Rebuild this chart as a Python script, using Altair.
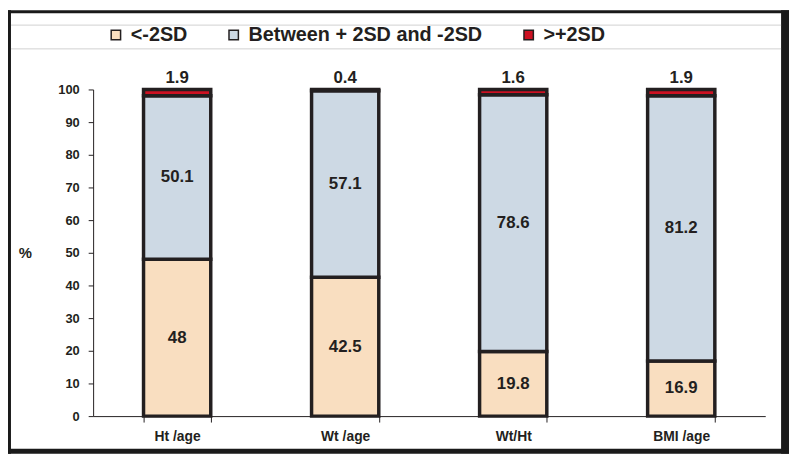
import altair as alt
import pandas as pd

categories = ["Ht /age", "Wt /age", "Wt/Ht", "BMI /age"]
series = ["<-2SD", "Between + 2SD and -2SD", ">+2SD"]
below = [48, 42.5, 19.8, 16.9]
between = [50.1, 57.1, 78.6, 81.2]
above = [1.9, 0.4, 1.6, 1.9]
colors = ["#F9DEC0", "#CDD9E4", "#CC1122"]

rows = []
for i, c in enumerate(categories):
    base_v = 0.0
    for k, (s, vals) in enumerate(zip(series, [below, between, above])):
        v = vals[i]
        rows.append({"cat": c, "series": s, "order": k, "value": v,
                     "y0": base_v, "y1": base_v + v, "mid": base_v + v / 2,
                     "label": f"{v:g}"})
        base_v += v
df = pd.DataFrame(rows)

DARK = "#231F20"
FONT = "Liberation Sans"

xaxis = alt.Axis(title=None, labelAngle=0, labelFontSize=14, labelFontWeight="bold",
                 labelColor=DARK, tickBand="extent", tickSize=6, tickColor=DARK,
                 domainColor=DARK, labelPadding=8, labelFont=FONT)
yaxis = alt.Axis(title="%", values=list(range(0, 101, 10)), grid=False,
                 labelOverlap=False,
                 labelFontSize=13, labelFontWeight="bold", labelColor=DARK,
                 tickSize=5, tickColor=DARK, domainColor=DARK, labelPadding=9,
                 titleAngle=0, titleX=-69, titleY=165, titleAlign="center",
                 titleBaseline="middle", titleFontSize=15, titleFontWeight="bold",
                 titleColor=DARK, labelFont=FONT, titleFont=FONT)
xscale = alt.Scale(paddingInner=0.6, paddingOuter=0.3)
yscale = alt.Scale(domain=[0, 100])


def X():
    return alt.X("cat:N", sort=categories, scale=xscale, axis=xaxis)


def Y(field):
    return alt.Y(field, scale=yscale, axis=yaxis)


base = alt.Chart(df)
bars = base.mark_bar(stroke=DARK, strokeWidth=3.5).encode(
    x=X(),
    y=Y("y0:Q"),
    y2="y1:Q",
    color=alt.Color("series:N", sort=series,
                    scale=alt.Scale(domain=series, range=colors),
                    legend=alt.Legend(title=None, orient="none", direction="horizontal",
                                      legendX=13, legendY=-65, symbolType="square",
                                      symbolSize=90, symbolStrokeColor=DARK,
                                      symbolStrokeWidth=1.5, symbolOpacity=1,
                                      labelFontSize=20, labelFontWeight="bold",
                                      labelColor=DARK, labelOffset=5, columnPadding=36,
                                      padding=0, labelFont=FONT, labelLimit=400)),
    order=alt.Order("order:Q"),
)

inner = base.transform_filter(alt.datum.series != ">+2SD").mark_text(
    fontSize=17, fontWeight="bold", color=DARK, font=FONT
).encode(x=X(), y=Y("mid:Q"), text="label:N")

top = base.transform_filter(alt.datum.series == ">+2SD").mark_text(
    fontSize=17, fontWeight="bold", color=DARK, font=FONT, baseline="bottom", dy=-3
).encode(x=X(), y=Y("y1:Q"), text="label:N")

one = alt.Data(values=[{"a": 1}])
frame = [
    alt.Chart(one).mark_rule(color="#1a1a1a", strokeWidth=3).encode(
        x=alt.value(-84.5), y=alt.value(-80), y2=alt.value(368)),
    alt.Chart(one).mark_rule(color="#1a1a1a", strokeWidth=3).encode(
        y=alt.value(-78.5), x=alt.value(-86), x2=alt.value(703)),
    alt.Chart(one).mark_rule(color="#1a1a1a", strokeWidth=8).encode(
        x=alt.value(699), y=alt.value(-80), y2=alt.value(368)),
    alt.Chart(one).mark_rule(color="#1a1a1a", strokeWidth=5).encode(
        y=alt.value(365.5), x=alt.value(-86), x2=alt.value(703)),
    alt.Chart(one).mark_rule(color="#d0d0d0", strokeWidth=1).encode(
        y=alt.value(-65), x=alt.value(-83), x2=alt.value(695)),
    alt.Chart(one).mark_rule(color="#d0d0d0", strokeWidth=1).encode(
        y=alt.value(-41), x=alt.value(-83), x2=alt.value(695)),
]

chart = alt.layer(bars, inner, top, *frame).properties(
    width=679, height=330,
    padding={"left": 86, "top": 80, "right": 24, "bottom": 38},
    autosize=alt.AutoSizeParams(type="none"),
    background="white",
).configure_view(stroke=None)

chart.save("out.html", embed_options={"renderer": "svg", "actions": False})
